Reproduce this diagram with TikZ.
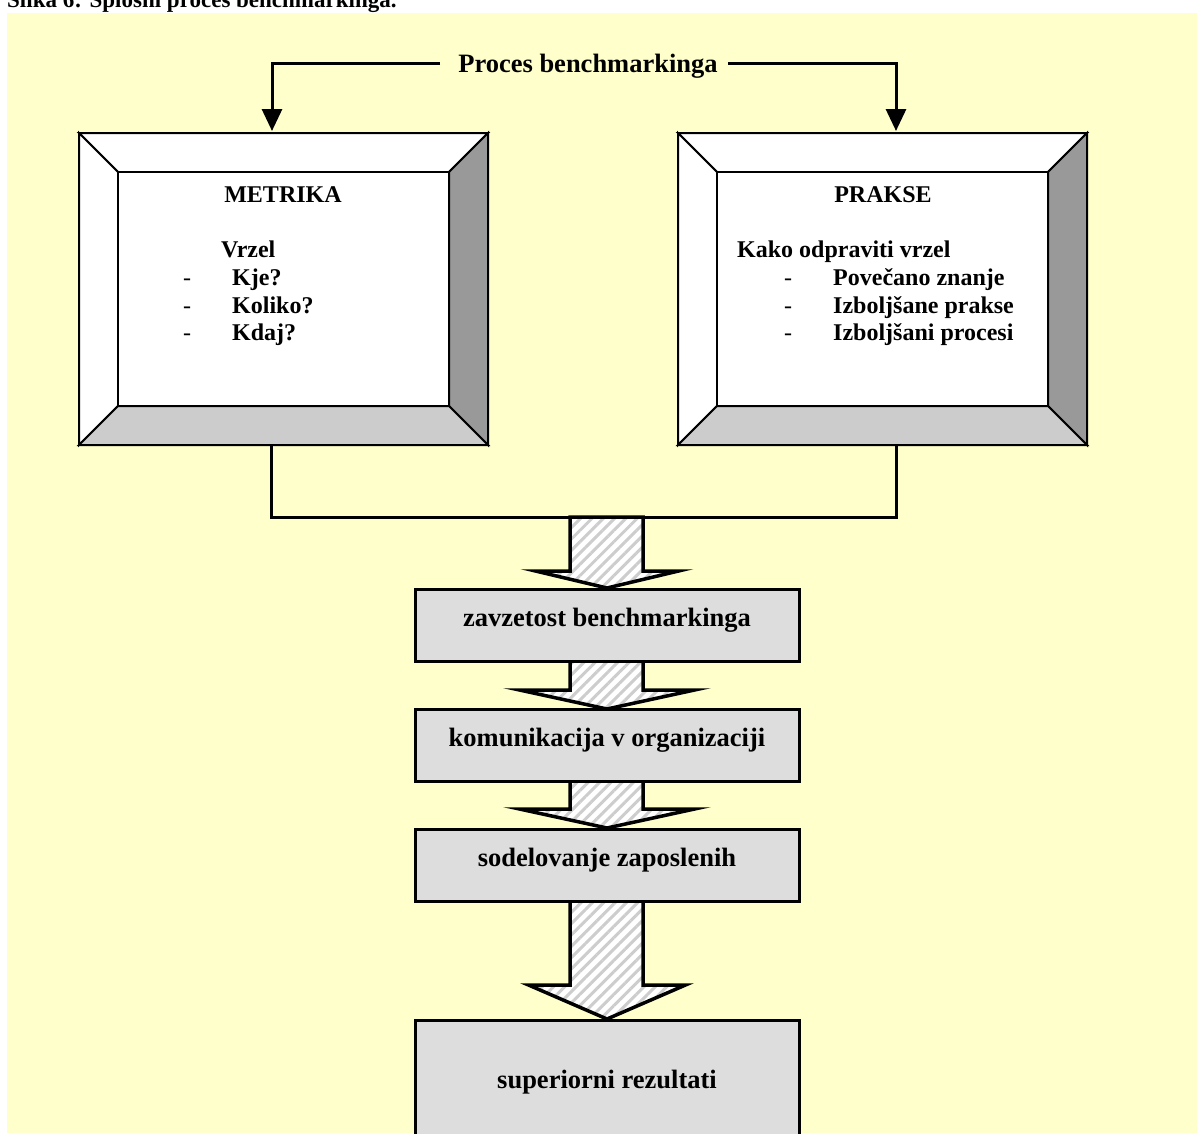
\documentclass[tikz,border=0pt]{standalone}
\usepackage{fontspec}
\setmainfont{Liberation Serif}
\usetikzlibrary{patterns.meta,calc,arrows.meta}
\definecolor{bgyellow}{RGB}{255,255,204}
\definecolor{boxgray}{RGB}{221,221,221}
\definecolor{bevdark}{RGB}{153,153,153}
\definecolor{bevlight}{RGB}{204,204,204}
\definecolor{hatchgray}{RGB}{205,205,205}
\newcommand\bevbox[4]{%
  \draw[bev, fill=white] (#1,#2) -- (#3,#2) -- (#3-39,#2+39) -- (#1+39,#2+39) -- cycle;
  \draw[bev, fill=white] (#1,#2) -- (#1+39,#2+39) -- (#1+39,#4-39) -- (#1,#4) -- cycle;
  \draw[bev, fill=bevdark] (#3,#2) -- (#3,#4) -- (#3-39,#4-39) -- (#3-39,#2+39) -- cycle;
  \draw[bev, fill=bevlight] (#1,#4) -- (#3,#4) -- (#3-39,#4-39) -- (#1+39,#4-39) -- cycle;
  \draw[bev, fill=white] (#1+39,#2+39) rectangle (#3-39,#4-39);
}
\newcommand\blockarr[4]{%
  \draw[barrow] (570,#1) -- (570,#2) -- (607-#4,#2) -- (607,#3) -- (607+#4,#2) -- (643,#2) -- (643,#1) -- cycle;
}
\begin{document}
\begin{tikzpicture}[x=1pt,y=-1pt,
  bev/.style={draw=black, line width=2pt, line join=miter},
  conn/.style={draw=black, line width=3pt},
  tip/.style={-{Triangle[length=22pt,width=20pt]}},
  lbl/.style={inner sep=0pt, font=\bfseries\fontsize{24}{28}\selectfont},
  dsh/.style={inner sep=0pt, font=\fontsize{24}{28}\selectfont, anchor=base west},
  big/.style={inner sep=0pt, font=\bfseries\fontsize{26.5}{30}\selectfont},
  sbox/.style={draw=black, line width=3pt, fill=boxgray, minimum width=384pt, inner sep=0pt},
  frame/.style={draw=black, line width=2pt, minimum width=409pt, minimum height=312pt, inner sep=0pt},
  barrow/.style={draw=black, line width=3.5pt, line join=miter, preaction={fill=white},
     pattern={Lines[angle=45,distance=8pt,line width=3pt]}, pattern color=hatchgray}
]
\clip (0,0) rectangle (1197,1133);
\fill[white] (0,0) rectangle (1197,1133);
\fill[bgyellow] (7,13) rectangle (1197,1133);
\node[lbl, font=\bfseries\fontsize{23}{28}\selectfont, anchor=base west] (title) at (7,7) {Slika 6: Splošni proces benchmarkinga.};

% bevel frames
\bevbox{79}{133}{488}{445}
\bevbox{678}{133}{1087}{445}
\node[frame] (metrika) at (283.5,289) {};
\node[frame] (prakse) at (882.5,289) {};

% left box text
\node[lbl, anchor=base] (metT) at (283,202) {METRIKA};
\node[lbl, anchor=base west] (vrzel) at (221,257) {Vrzel};
\node[dsh] (md1) at (183,285) {-};
\node[dsh] (md2) at (183,313) {-};
\node[dsh] (md3) at (183,340) {-};
\node[lbl, anchor=base west] (kje) at (232,285) {Kje?};
\node[lbl, anchor=base west] (koliko) at (232,313) {Koliko?};
\node[lbl, anchor=base west] (kdaj) at (232,340) {Kdaj?};

% right box text
\node[lbl, anchor=base] (prT) at (883,202) {PRAKSE};
\node[lbl, anchor=base west] (kako) at (737,257) {Kako odpraviti vrzel};
\node[dsh] (pd1) at (784,285) {-};
\node[dsh] (pd2) at (784,313) {-};
\node[dsh] (pd3) at (784,340) {-};
\node[lbl, anchor=base west] (znanje) at (833,285) {Povečano znanje};
\node[lbl, anchor=base west] (ipr) at (833,313) {Izboljšane prakse};
\node[lbl, anchor=base west] (ipc) at (833,340) {Izboljšani procesi};

% top label and connectors
\node[big, anchor=base] (proces) at (588,72) {Proces benchmarkinga};
\coordinate (pl) at (440,63);
\coordinate (pr) at (728,63);
\draw[conn, tip] (pl) -| ($(metrika.north)+(-11.5,-1)$);
\draw[conn, tip] (pr) -| ($(prakse.north)+(13.5,-1)$);

% block arrows
\blockarr{517}{571}{588}{71.5}
\blockarr{661}{690}{709}{87.5}
\blockarr{781}{809}{828}{87.5}
\blockarr{901}{985}{1019}{78.5}

% bottom connector
\coordinate (join) at (607,517);
\draw[conn] ($(metrika.south)+(-12.5,0)$) |- (join) -| ($(prakse.south)+(13.5,0)$);

% step boxes
\node[sbox, minimum height=72pt] (b1) at (607,625) {};
\node[sbox, minimum height=72pt] (b2) at (607,745) {};
\node[sbox, minimum height=72pt] (b3) at (607,865) {};
\node[sbox, minimum height=130pt] (b4) at (607,1085) {};
\node[big, anchor=base] (t1) at (607,626) {zavzetost benchmarkinga};
\node[big, anchor=base] (t2) at (607,746) {komunikacija v organizaciji};
\node[big, anchor=base] (t3) at (607,866) {sodelovanje zaposlenih};
\node[big, anchor=base] (t4) at (607,1088) {superiorni rezultati};
\end{tikzpicture}
\end{document}
